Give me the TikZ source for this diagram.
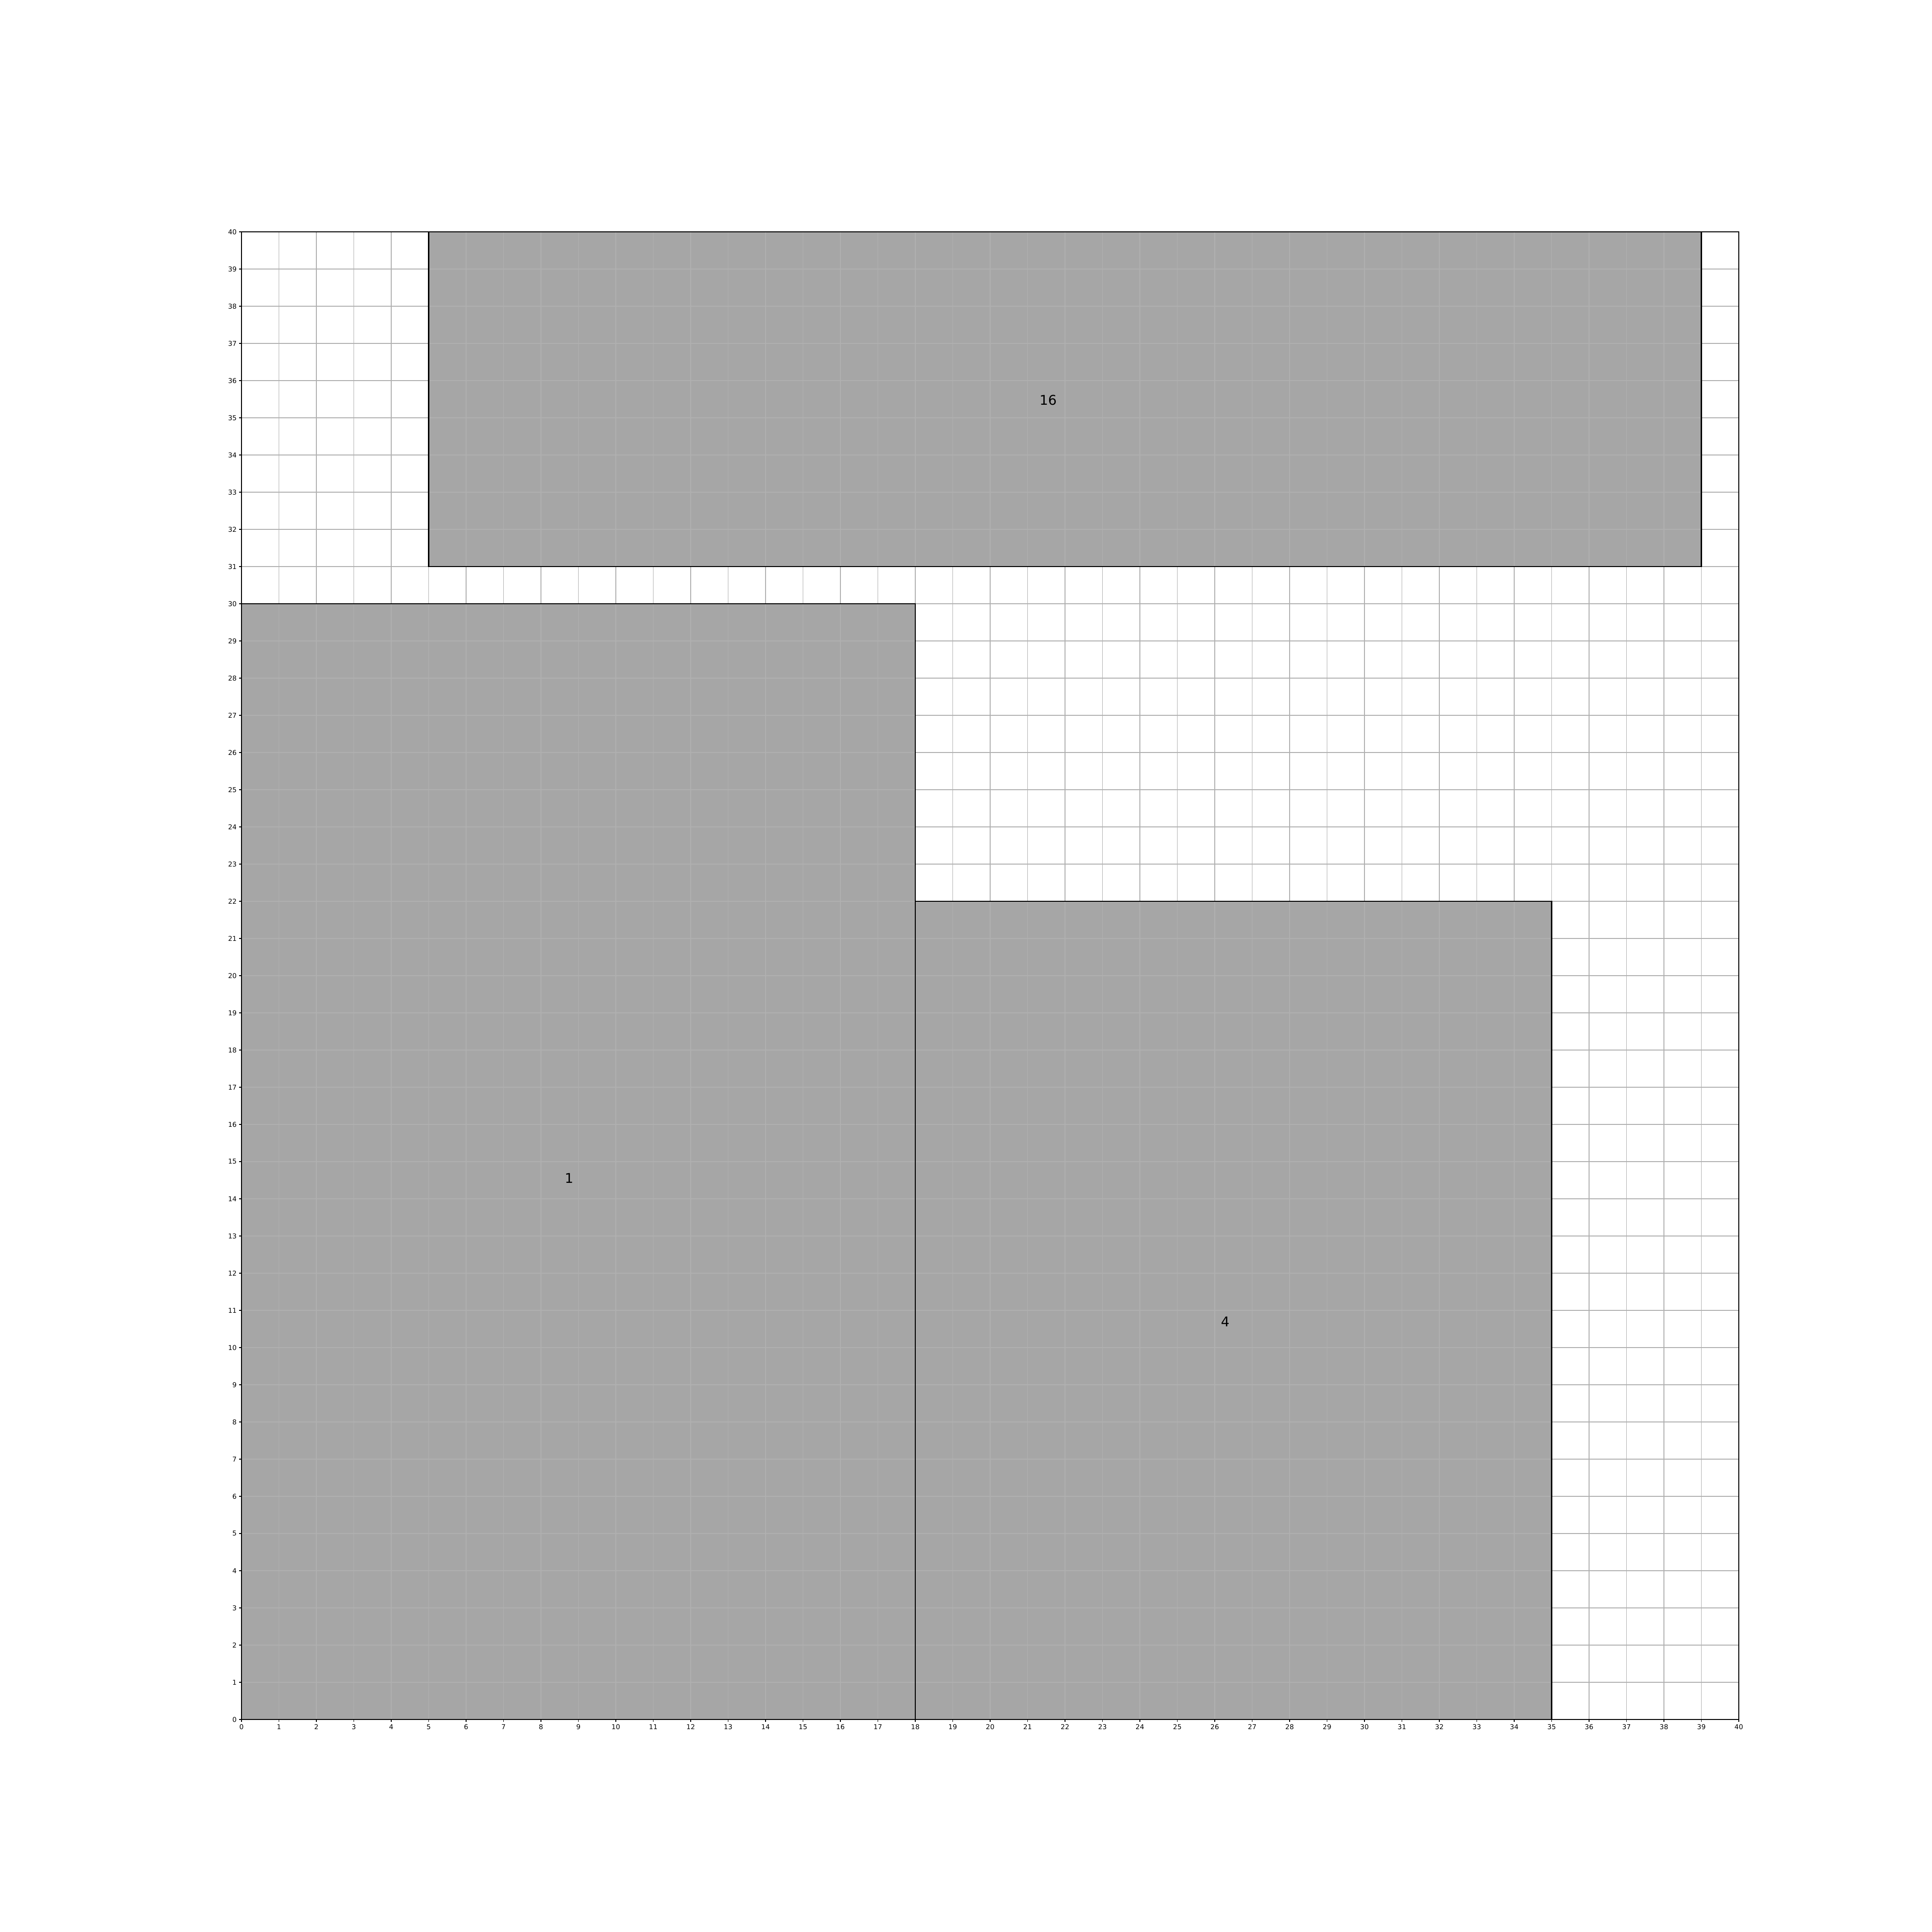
\documentclass[tikz,border=0pt]{standalone}
\usepackage{fontspec}
\setmainfont{DejaVu Sans}
\definecolor{fillg}{HTML}{A6A6A6}
\definecolor{gridg}{HTML}{B0B0B0}
\tikzset{
  gridline/.style={draw=gridg, line width=0.8pt},
  spine/.style={draw=black, line width=0.8pt},
  tickmark/.style={draw=black, line width=0.8pt},
  ticklabel/.style={inner sep=0pt, font=\fontsize{10}{12}\selectfont},
  boxfill/.style={fill=fillg},
  boxedge/.style={draw=black, line width=1.9pt},
  boxlabel/.style={inner sep=0pt, font=\fontsize{20}{24}\selectfont, anchor=center}
}
\begin{document}
\begin{tikzpicture}[x=55.8pt,y=55.44pt]
\useasboundingbox (-360pt,-316.8pt) rectangle (2520pt,2563.2pt);
% rectangle fills
\fill[boxfill] (5,31) rectangle (39,40);
\fill[boxfill] (0,0) rectangle (18,30);
\fill[boxfill] (18,0) rectangle (35,22);
% grid
\draw[gridline, step={(1,1)}] (0,0) grid (40,40);
% rectangle edges
\draw[boxedge] (5,31) rectangle (39,40);
\draw[boxedge] (0,0) rectangle (18,30);
\draw[boxedge] (18,0) rectangle (35,22);
% labels
\node[boxlabel] (l16) at (21.55,35.47) {16};
\node[boxlabel] (l1) at (8.75,14.55) {1};
\node[boxlabel] (l4) at (26.28,10.69) {4};
% spines
\draw[spine] (0,0) rectangle (40,40);
% ticks
\foreach \i in {0,...,40}{
  \draw[tickmark] (\i,0) -- ++(0,-3.5pt);
  \node[ticklabel, anchor=north] (xt\i) at ([yshift=-7pt]\i,0) {\i};
  \draw[tickmark] (0,\i) -- ++(-3.5pt,0);
  \node[ticklabel, anchor=east] (yt\i) at ([xshift=-7pt]0,\i) {\i};
}
\end{tikzpicture}
\end{document}
